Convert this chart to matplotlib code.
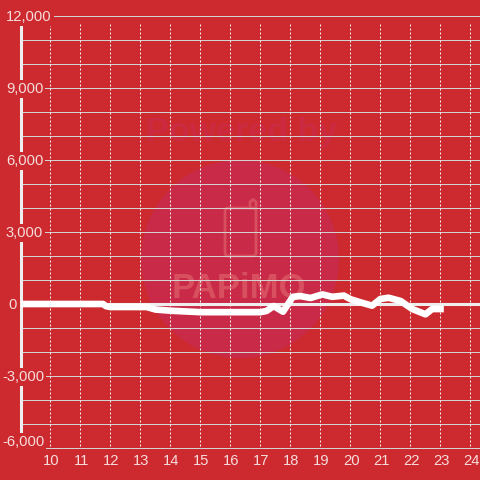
import matplotlib.pyplot as plt
from matplotlib.patches import Circle, FancyBboxPatch

plt.rcParams["font.family"] = ["Liberation Sans", "DejaVu Sans"]

# Values
hours = [9, 11.75, 11.85, 12, 13.2, 13.5, 14, 14.5, 15, 17, 17.2, 17.44, 17.75,
         18.08, 18.33, 18.67, 19.06, 19.39, 19.78, 20, 20.33, 20.72, 21, 21.27,
         21.67, 22.06, 22.5, 22.72, 23]
values = [0, 0, -90, -125, -125, -230, -280, -310, -340, -340, -290, -85, -320,
          300, 330, 250, 400, 300, 350, 200, 70, -70, 210, 260,
          125, -210, -430, -210, -210]
x_ticks = list(range(10, 25))
y_ticks = [-6000, -3000, 0, 3000, 6000, 9000, 12000]
y_labels = ["-6,000", "-3,000", "0", "3,000", "6,000", "9,000", "12,000"]
y_grid = list(range(-6000, 13000, 1000))

RED = "#cc2a2e"
WATER = "#d8505f"
TEXT = "#f7dcdc"

fig = plt.figure(figsize=(4.8, 4.8), dpi=100, facecolor=RED)

# Watermark sits behind the chart, in pixel coordinates
bg = fig.add_axes([0, 0, 1, 1], zorder=0)
bg.set_xlim(0, 480)
bg.set_ylim(480, 0)
bg.axis("off")
bg.add_patch(Circle((240, 259), 99, fc="#c92a47", ec="none"))
bg.text(241.5, 133, "Powered by", color="#cb2a40", fontsize=24.5, fontweight="bold",
        ha="center", va="center")
bg.add_patch(FancyBboxPatch((225, 208), 31, 48, boxstyle="round,pad=0,rounding_size=3",
                            fc="none", ec=WATER, lw=2))
bg.plot([250, 250, 253, 256, 256], [208, 202, 199.5, 202, 208], color=WATER, lw=2)
bg.text(239, 289, "PAPiMO", color=WATER, fontsize=25, fontweight="bold", ha="center", va="center")

ax = fig.add_axes([20.5 / 480, 32 / 480, 459.5 / 480, 432 / 480], zorder=1)
ax.patch.set_visible(False)
ax.set_xlim(9, 24.317)
ax.set_ylim(-6000, 12000)

for side in ["top", "right", "bottom"]:
    ax.spines[side].set_visible(False)
ax.spines["left"].set_color("#eeeeee")
ax.spines["left"].set_linewidth(2.2)
ax.spines["left"].set_bounds(-6000, 11667)
ax.tick_params(left=False, bottom=False, labelleft=False, labelbottom=False)

ax.hlines(y_grid, 9, 24.317, color="#d2d2d2", lw=0.72, zorder=1, clip_on=False)
ax.vlines(x_ticks, -5917, 11667, color="#f0f0f0", lw=0.72, linestyles=(0, (2, 2)), zorder=1)
ax.hlines(0, 9, 24.317, color="#eeeeee", lw=2.2, zorder=2)

ax.plot(hours, values, color="white", lw=4.8, solid_capstyle="projecting",
        solid_joinstyle="round", zorder=3)

# y labels mask the axis line and the grid behind them
for tick, label in zip(y_ticks, y_labels):
    left = 2 if tick < 0 else (8 if tick == 0 else 6)
    ypos = -5760 if tick == -6000 else tick - 40
    ax.text((left - 20.5) / 459.5, ypos, label, transform=ax.get_yaxis_transform(),
            color=TEXT, fontsize=10.6, ha="left", va="center", clip_on=False, zorder=2.8,
            bbox=dict(fc=RED, ec="none", pad=1.5))

for tick in x_ticks:
    ax.annotate(str(tick), (tick, 0), xycoords=ax.get_xaxis_transform(), xytext=(0.7, -9.5),
                textcoords="offset points", color=TEXT, fontsize=10.6, ha="center", va="center",
                annotation_clip=False)

fig.savefig("out.png", dpi=100, facecolor=RED)
